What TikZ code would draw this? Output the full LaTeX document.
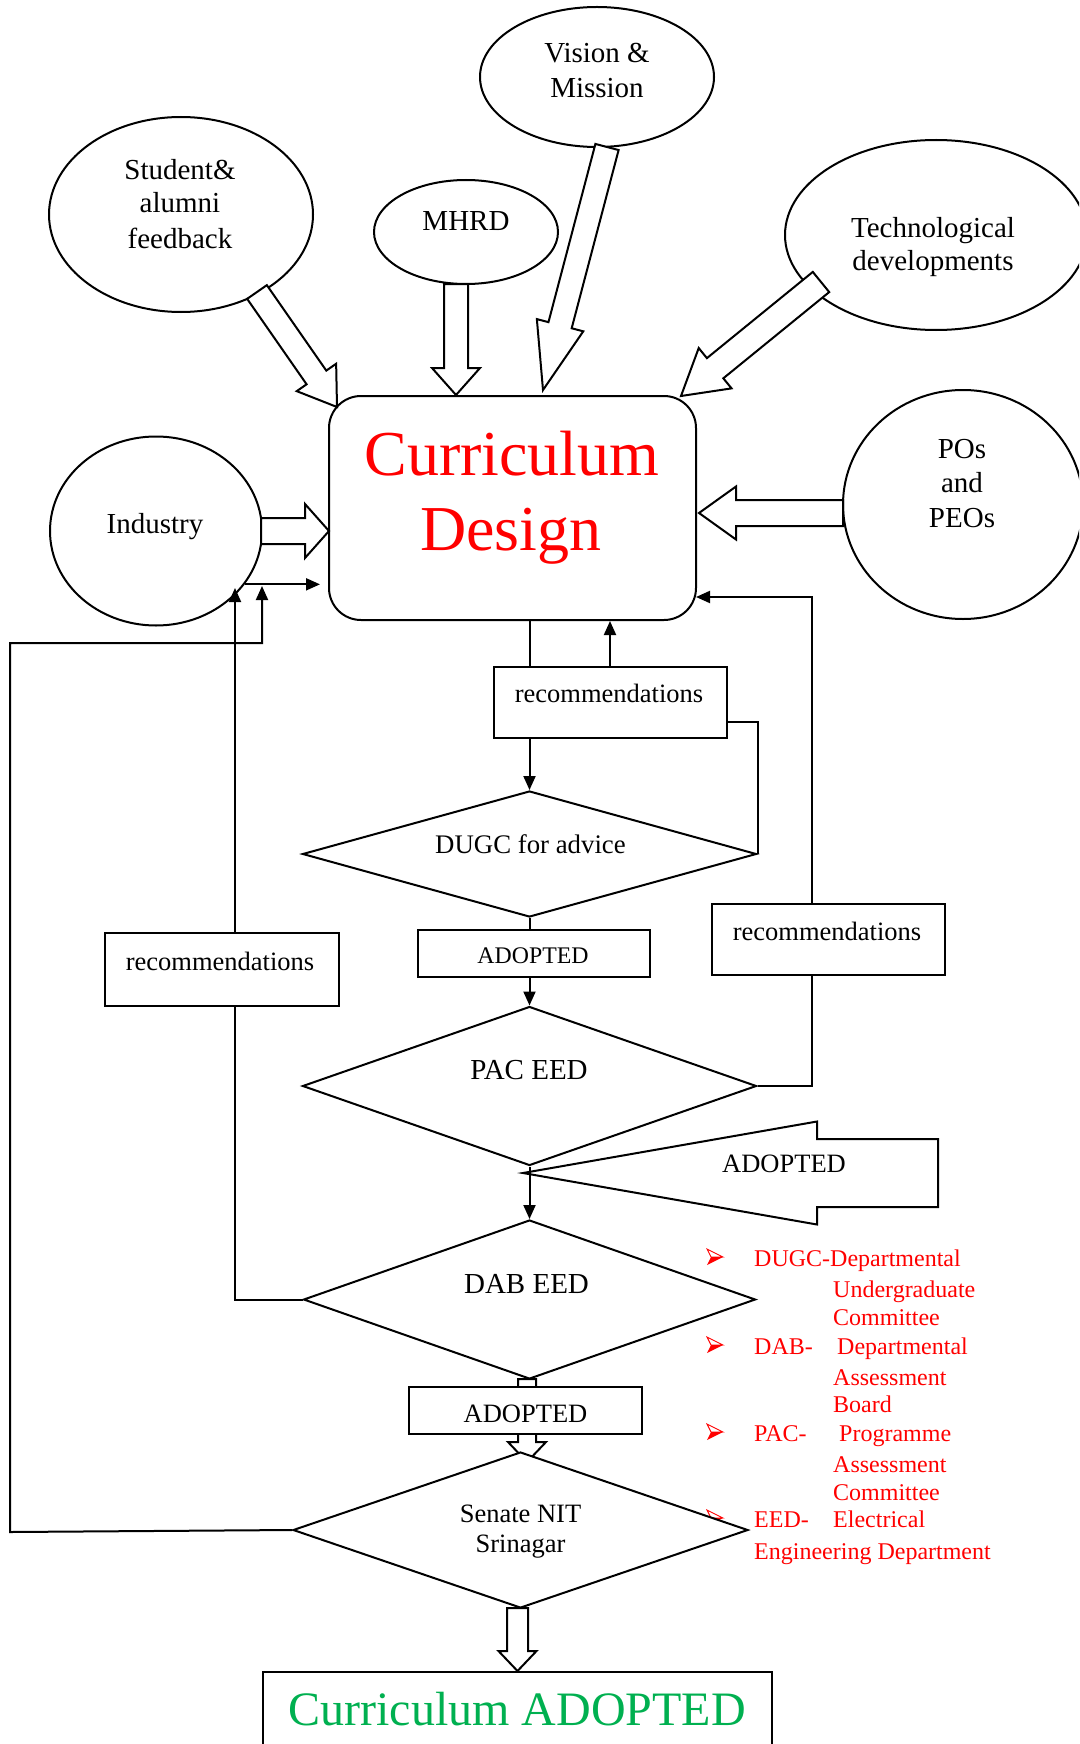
\documentclass[tikz,border=0pt]{standalone}
\usepackage{fontspec}
\setmainfont{Liberation Serif}
\usetikzlibrary{shapes.geometric,calc,arrows.meta}

\definecolor{cdred}{RGB}{255,0,0}
\definecolor{okgreen}{RGB}{0,176,80}

\newcommand\ovalfont{\fontsize{29}{34}\selectfont}
\newcommand\recfont{\fontsize{26.5}{31}\selectfont}
\newcommand\smallrecfont{\fontsize{23.8}{28}\selectfont}
\newcommand\dgfont{\fontsize{26.8}{31}\selectfont}
\newcommand\keyfont{\fontsize{24}{28}\selectfont}
\newcommand\cdfont{\fontsize{64}{75}\selectfont}
\newcommand\finalfont{\fontsize{48}{56}\selectfont}

% hollow block arrow from #1 to the tip #2:
% shaft half width #3, head half width #4, head length #5
\newcommand\bigarrow[5]{%
  \coordinate (ba-neck) at ($(#2)!#5pt!(#1)$);
  \draw[hollowarrow] ($(#1)!#3pt!90:(#2)$) -- ($(ba-neck)!#3pt!90:(#2)$)
    -- ($(ba-neck)!#4pt!90:(#2)$) -- (#2) -- ($(ba-neck)!#4pt!-90:(#2)$)
    -- ($(ba-neck)!#3pt!-90:(#2)$) -- ($(#1)!#3pt!-90:(#2)$) -- cycle;}

% red 3-D arrowhead bullet of the abbreviation list, centred at height #1
\newcommand\keymark[1]{%
  \fill[cdred] (711,#1) -- (723,#1) -- (707,#1+8) -- cycle;
  \draw[cdred, line width=0.9pt, line join=miter] (707,#1-8) -- (723,#1) -- (711,#1) -- cycle;}

\begin{document}
\begin{tikzpicture}[x=1pt, y=-1pt,
  oval/.style={draw, ellipse, line width=2pt, inner sep=0pt},
  decision/.style={draw, diamond, line width=2pt, inner sep=0pt, fill=white},
  recbox/.style={draw, rectangle, line width=2pt, inner sep=0pt, fill=white},
  hollowarrow/.style={draw, fill=white, line width=2pt, line join=miter},
  link/.style={line width=2pt},
  arrowlink/.style={link, -{Triangle[length=14pt, width=12pt]}},
  lbl/.style={anchor=base, inner sep=0pt},
  keytxt/.style={anchor=base west, inner sep=0pt, text=cdred, font=\keyfont}]

\useasboundingbox (0,0) rectangle (1079,1744);
\clip (0,0) rectangle (1079,1744);
\fill[white] (0,0) rectangle (1079,1744);

% ---------------- inputs ----------------
\node[oval, minimum width=234pt, minimum height=140pt] (vision) at (597,77) {};
\node[lbl, font=\ovalfont] (t-vis1) at (597,63) {Vision \&};
\node[lbl, font=\ovalfont] (t-vis2) at (597,98) {Mission};

\node[oval, minimum width=264pt, minimum height=195pt] (student) at (181,214.5) {};
\node[lbl, font=\ovalfont] (t-stu1) at (180,180) {Student\&};
\node[lbl, font=\ovalfont] (t-stu2) at (180,213) {alumni};
\node[lbl, font=\ovalfont] (t-stu3) at (180,248) {feedback};

\node[oval, minimum width=184pt, minimum height=104pt] (mhrd) at (466,232) {};
\node[lbl, font=\ovalfont] (t-mhrd) at (466,231) {MHRD};

\node[oval, minimum width=302pt, minimum height=190pt] (tech) at (936,235) {};
\node[lbl, font=\ovalfont] (t-tec1) at (933,237) {Technological};
\node[lbl, font=\ovalfont] (t-tec2) at (933,270) {developments};

\node[oval, minimum width=212pt, minimum height=189pt] (industry) at (156,531) {};
\node[lbl, font=\ovalfont] (t-ind) at (155,533) {Industry};

\node[oval, minimum width=240pt, minimum height=229pt] (pos) at (963,504.5) {};
\node[lbl, font=\ovalfont] (t-po1) at (962,458) {POs};
\node[lbl, font=\ovalfont] (t-po2) at (962,492) {and};
\node[lbl, font=\ovalfont] (t-po3) at (962,527) {PEOs};

% ---------------- curriculum design ----------------
\node[draw, line width=2pt, rounded corners=32pt, minimum width=367pt,
      minimum height=224pt, inner sep=0pt] (cd) at (512.5,508) {};
\node[lbl, font=\cdfont, text=cdred] (t-cd1) at (512,475) {Curriculum};
\node[lbl, font=\cdfont, text=cdred] (t-cd2) at (511,550) {Design};

% end points of the input arrows
\coordinate (stuA) at (257,292);  \coordinate (stuB) at (337,407);
\coordinate (mhrdA) at (456,284); \coordinate (mhrdB) at (456,395);
\coordinate (visA) at (607,147);  \coordinate (visB) at (543,390);
\coordinate (tecA) at (821,282);  \coordinate (tecB) at (681,396);
\coordinate (indA) at (261,531);  \coordinate (indB) at (329,531);
\coordinate (poA) at (843,513);   \coordinate (poB) at (699,513);

\bigarrow{stuA}{stuB}{12}{24}{36}
\bigarrow{mhrdA}{mhrdB}{12}{24}{27}
\bigarrow{visA}{visB}{12}{24}{67}
\bigarrow{tecA}{tecB}{13}{26}{44}
\bigarrow{indA}{indB}{13}{27}{24}
\bigarrow{poA}{poB}{13}{26.5}{37}

% ---------------- review chain ----------------
\node[recbox, minimum width=233pt, minimum height=71pt] (rec1) at (610.5,702.5) {};
\node[decision, minimum width=454pt, minimum height=126pt] (dugc) at (529.5,854) {};
\node[recbox, minimum width=232pt, minimum height=47pt] (adopt1) at (534,953.5) {};
\node[recbox, minimum width=234pt, minimum height=73pt] (rec2) at (222,969.5) {};
\node[recbox, minimum width=233pt, minimum height=71pt] (rec3) at (828.5,939.5) {};
\node[decision, minimum width=454pt, minimum height=159pt] (pac) at (529.5,1086) {};

% column positions of the connectors
\coordinate (midX) at (529.5,0);
\coordinate (upX) at (610,0);
\coordinate (fbX) at (812,0);
\coordinate (lfX) at (235,0);
\coordinate (rec1ret) at (727,722);
\coordinate (cdfb) at (696,597);
\coordinate (indUp1) at (235,588);
\coordinate (indUp2) at (262,586);
\coordinate (indTipX) at (320,0);
\coordinate (farLow) at (10,1532);
\coordinate (farHigh) at (10,643);

\draw[link] (pac.east) -| (rec3.south -| fbX);
\draw[arrowlink] (rec3.north -| fbX) |- (cdfb);

\draw[link] (cd.south -| midX) -- (rec1.north -| midX);
\draw[arrowlink] (rec1.north -| upX) -- (cd.south -| upX);
\draw[arrowlink] (rec1.south -| midX) -- (dugc.north);
\draw[link] (dugc.east) |- (rec1ret);
\draw[link] (dugc.south) -- (adopt1.north -| dugc.south);
\draw[arrowlink] (adopt1.south -| pac.north) -- (pac.north);
\draw[arrowlink] (industry.-31) -- (industry.-31 -| indTipX);

\node[lbl, font=\recfont] (t-rec1) at (609,702) {recommendations};
\node[lbl, font=\dgfont] (t-dugc) at (530.5,853) {DUGC for advice};
\node[lbl, font=\smallrecfont] (t-ad1) at (533,963) {ADOPTED};
\node[lbl, font=\recfont] (t-rec2) at (220,970) {recommendations};
\node[lbl, font=\recfont] (t-rec3) at (827,940) {recommendations};
\node[lbl, font=\ovalfont] (t-pac) at (529,1079) {PAC EED};

% big ADOPTED arrow pointing at the PAC decision
\coordinate (adA) at (938,1173); \coordinate (adB) at (523,1173);
\bigarrow{adA}{adB}{34}{51.5}{294}
\node[lbl, font=\recfont] (t-ad2) at (784,1172) {ADOPTED};

\node[decision, minimum width=452pt, minimum height=159pt] (dab) at (529.5,1299.5) {};
\node[lbl, font=\ovalfont] (t-dab) at (526.5,1293) {DAB EED};
\draw[arrowlink] (pac.south) -- (dab.north);

% recommendations of the DAB back to the design stage
\draw[link] (dab.west) -| (rec2.south -| lfX);
\draw[arrowlink] (rec2.north -| lfX) -- (indUp1);

% DAB -> Senate
\coordinate (dsA) at (527,1379); \coordinate (dsB) at (527,1462);
\bigarrow{dsA}{dsB}{9}{19}{20}
\node[recbox, minimum width=233pt, minimum height=47pt] (adopt2) at (525.5,1410.5) {};
\node[lbl, font=\recfont] (t-ad3) at (525.5,1422) {ADOPTED};

% abbreviations
\keymark{1257}
\node[keytxt] (k1) at (754,1266) {DUGC-Departmental};
\node[keytxt] (k2) at (833,1297) {Undergraduate};
\node[keytxt] (k3) at (833,1325) {Committee};
\keymark{1345}
\node[keytxt] (k4) at (754,1354) {DAB-};
\node[keytxt] (k5) at (837,1354) {Departmental};
\node[keytxt] (k6) at (833,1385) {Assessment};
\node[keytxt] (k7) at (833,1412) {Board};
\keymark{1432}
\node[keytxt] (k8) at (754,1441) {PAC-};
\node[keytxt] (k9) at (839,1441) {Programme};
\node[keytxt] (k10) at (833,1472) {Assessment};
\node[keytxt] (k11) at (833,1500) {Committee};
\keymark{1518}
\node[keytxt] (k12) at (754,1527) {EED-};
\node[keytxt] (k13) at (833,1527) {Electrical};
\node[keytxt] (k14) at (754,1559) {Engineering Department};

% Senate
\node[decision, minimum width=455pt, minimum height=156pt] (senate) at (520.5,1530) {};
\node[lbl, font=\recfont] (t-sen1) at (520.5,1522) {Senate NIT};
\node[lbl, font=\recfont] (t-sen2) at (520.5,1552) {Srinagar};

\draw[arrowlink] (senate.west) -- (farLow) -- (farHigh) -| (indUp2);

% final outcome
\node[recbox, minimum width=509pt, minimum height=100pt, anchor=north] (final) at (517.5,1671) {};
\node[lbl, font=\finalfont, text=okgreen] (t-final) at (517,1725) {Curriculum ADOPTED};
\coordinate (sfA) at (517.5,1608); \coordinate (sfB) at (517.5,1671);
\bigarrow{sfA}{sfB}{10.5}{19}{20}

\end{tikzpicture}
\end{document}
